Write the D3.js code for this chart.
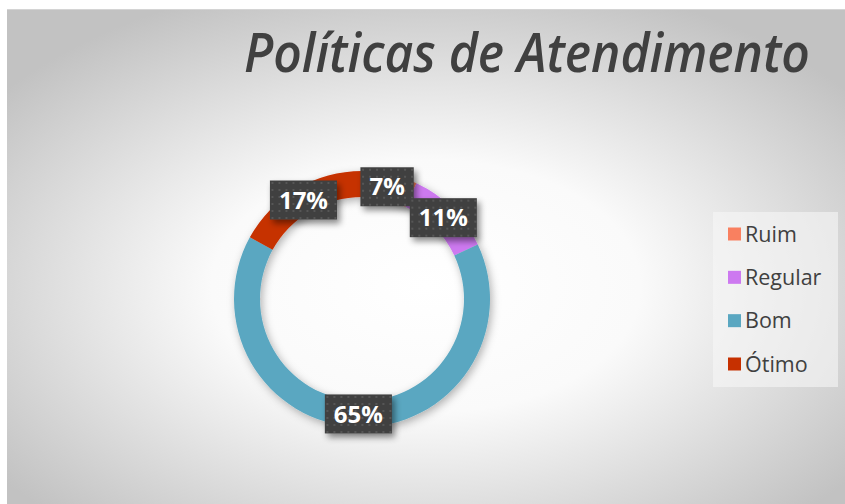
<!DOCTYPE html>
<html>
<head>
<meta charset="utf-8">
<script src="https://cdn.jsdelivr.net/npm/d3@7"></script>
<style>
  html, body { margin: 0; padding: 0; background: #fff; }
  svg { display: block; }
</style>
</head>
<body>
<svg id="chart" width="845" height="504"></svg>
<script>
var categories = [ 'Ruim', 'Regular', 'Bom', 'Ótimo' ];
var values = [ 7, 11, 65, 17 ];
var colors = [ '#F98060', '#CD79F0', '#5AA7C1', '#C63000' ];
var title = 'Políticas de Atendimento';

var svg = d3.select( '#chart' );
var defs = svg.append( 'defs' );

// background gradient, white in the middle and grey to the edges
var bg = defs.append( 'radialGradient' ).attr( 'id', 'bg' )
	.attr( 'cx', '50%' ).attr( 'cy', '56%' ).attr( 'r', '64%' );
bg.append( 'stop' ).attr( 'offset', '0%' ).attr( 'stop-color', '#ffffff' );
bg.append( 'stop' ).attr( 'offset', '40%' ).attr( 'stop-color', '#fafafa' );
bg.append( 'stop' ).attr( 'offset', '100%' ).attr( 'stop-color', '#c2c2c2' );

var dots = defs.append( 'pattern' ).attr( 'id', 'dots' )
	.attr( 'width', 7 ).attr( 'height', 7 ).attr( 'patternUnits', 'userSpaceOnUse' );
dots.append( 'rect' ).attr( 'width', 7 ).attr( 'height', 7 ).attr( 'fill', '#404040' );
dots.append( 'rect' ).attr( 'x', 3 ).attr( 'y', 3 ).attr( 'width', 2 ).attr( 'height', 2 ).attr( 'fill', '#565656' );

var ringShadow = defs.append( 'filter' ).attr( 'id', 'ringShadow' )
	.attr( 'x', '-20%' ).attr( 'y', '-20%' ).attr( 'width', '140%' ).attr( 'height', '140%' );
ringShadow.append( 'feDropShadow' ).attr( 'dx', 2 ).attr( 'dy', 3 )
	.attr( 'stdDeviation', 4 ).attr( 'flood-color', '#000' ).attr( 'flood-opacity', 0.3 );

var boxShadow = defs.append( 'filter' ).attr( 'id', 'boxShadow' )
	.attr( 'x', '-30%' ).attr( 'y', '-30%' ).attr( 'width', '160%' ).attr( 'height', '170%' );
boxShadow.append( 'feDropShadow' ).attr( 'dx', 3 ).attr( 'dy', 4 )
	.attr( 'stdDeviation', 3 ).attr( 'flood-color', '#000' ).attr( 'flood-opacity', 0.45 );

svg.append( 'rect' )
	.attr( 'x', 7 ).attr( 'y', 9 ).attr( 'width', 838 ).attr( 'height', 495 )
	.attr( 'fill', 'url(#bg)' );
svg.append( 'line' )
	.attr( 'x1', 7 ).attr( 'x2', 845 ).attr( 'y1', 9.5 ).attr( 'y2', 9.5 )
	.attr( 'stroke', '#d4d4d4' );

// title: squeezed horizontally so it spans the same width as the reference
var titleText = svg.append( 'text' )
	.style( 'font-family', '"Open Sans", sans-serif' )
	.style( 'font-style', 'italic' ).style( 'font-weight', 600 )
	.style( 'font-size', '54px' ).style( 'fill', '#404040' )
	.text( title );
var titleLen = titleText.node().getComputedTextLength();
titleText.attr( 'transform', 'translate(244,72) scale(' + ( 566 / titleLen ) + ',1)' );

// donut
var cx = 362, cy = 299;
var arc = d3.arc().innerRadius( 102 ).outerRadius( 128 );
var labelArc = d3.arc().innerRadius( 115 ).outerRadius( 115 );
var pie = d3.pie().sort( null ).value( function ( d ) { return d; } );
var slices = pie( values );

var g = svg.append( 'g' ).attr( 'transform', 'translate(' + cx + ',' + cy + ')' );
g.append( 'g' ).attr( 'filter', 'url(#ringShadow)' )
	.selectAll( 'path' )
	.data( slices )
	.enter()
	.append( 'path' )
	.attr( 'd', arc )
	.attr( 'fill', function ( d, i ) { return colors[i]; } );

var labels = g.selectAll( 'g.lbl' )
	.data( slices )
	.enter()
	.append( 'g' )
	.classed( 'lbl', true )
	.attr( 'transform', function ( d ) {
		var c = labelArc.centroid( d );
		return 'translate(' + c[0] + ',' + c[1] + ')';
	} );
labels.append( 'rect' ).attr( 'filter', 'url(#boxShadow)' ).attr( 'fill', 'url(#dots)' );
labels.append( 'text' )
	.attr( 'text-anchor', 'middle' ).attr( 'dy', '0.36em' )
	.style( 'font-family', '"Open Sans", sans-serif' )
	.style( 'font-weight', 700 ).style( 'font-size', '24px' ).style( 'fill', '#fff' )
	.text( function ( d ) { return d.data + '%'; } );
labels.each( function () {
	var w = d3.select( this ).select( 'text' ).node().getComputedTextLength() + 18;
	d3.select( this ).select( 'rect' )
		.attr( 'x', -w / 2 ).attr( 'y', -19.5 ).attr( 'width', w ).attr( 'height', 39 );
} );

// legend
var legend = svg.append( 'g' ).attr( 'transform', 'translate(713,212)' );
legend.append( 'rect' ).attr( 'width', 125 ).attr( 'height', 175 )
	.attr( 'fill', '#f6f6f6' ).attr( 'opacity', 0.6 );
var yRow = d3.scalePoint().domain( categories ).range( [ 22, 152 ] );
var rows = legend.selectAll( 'g.row' )
	.data( categories )
	.enter()
	.append( 'g' )
	.classed( 'row', true )
	.attr( 'transform', function ( d ) { return 'translate(0,' + yRow( d ) + ')'; } );
rows.append( 'rect' ).attr( 'x', 15 ).attr( 'y', -6.5 ).attr( 'width', 13 ).attr( 'height', 13 )
	.attr( 'fill', function ( d, i ) { return colors[i]; } );
rows.append( 'text' ).attr( 'x', 32 ).attr( 'dy', '0.36em' )
	.style( 'font-family', '"Open Sans", sans-serif' )
	.style( 'font-size', '21.5px' ).style( 'fill', '#404040' )
	.text( function ( d ) { return d; } );
</script>
</body>
</html>
